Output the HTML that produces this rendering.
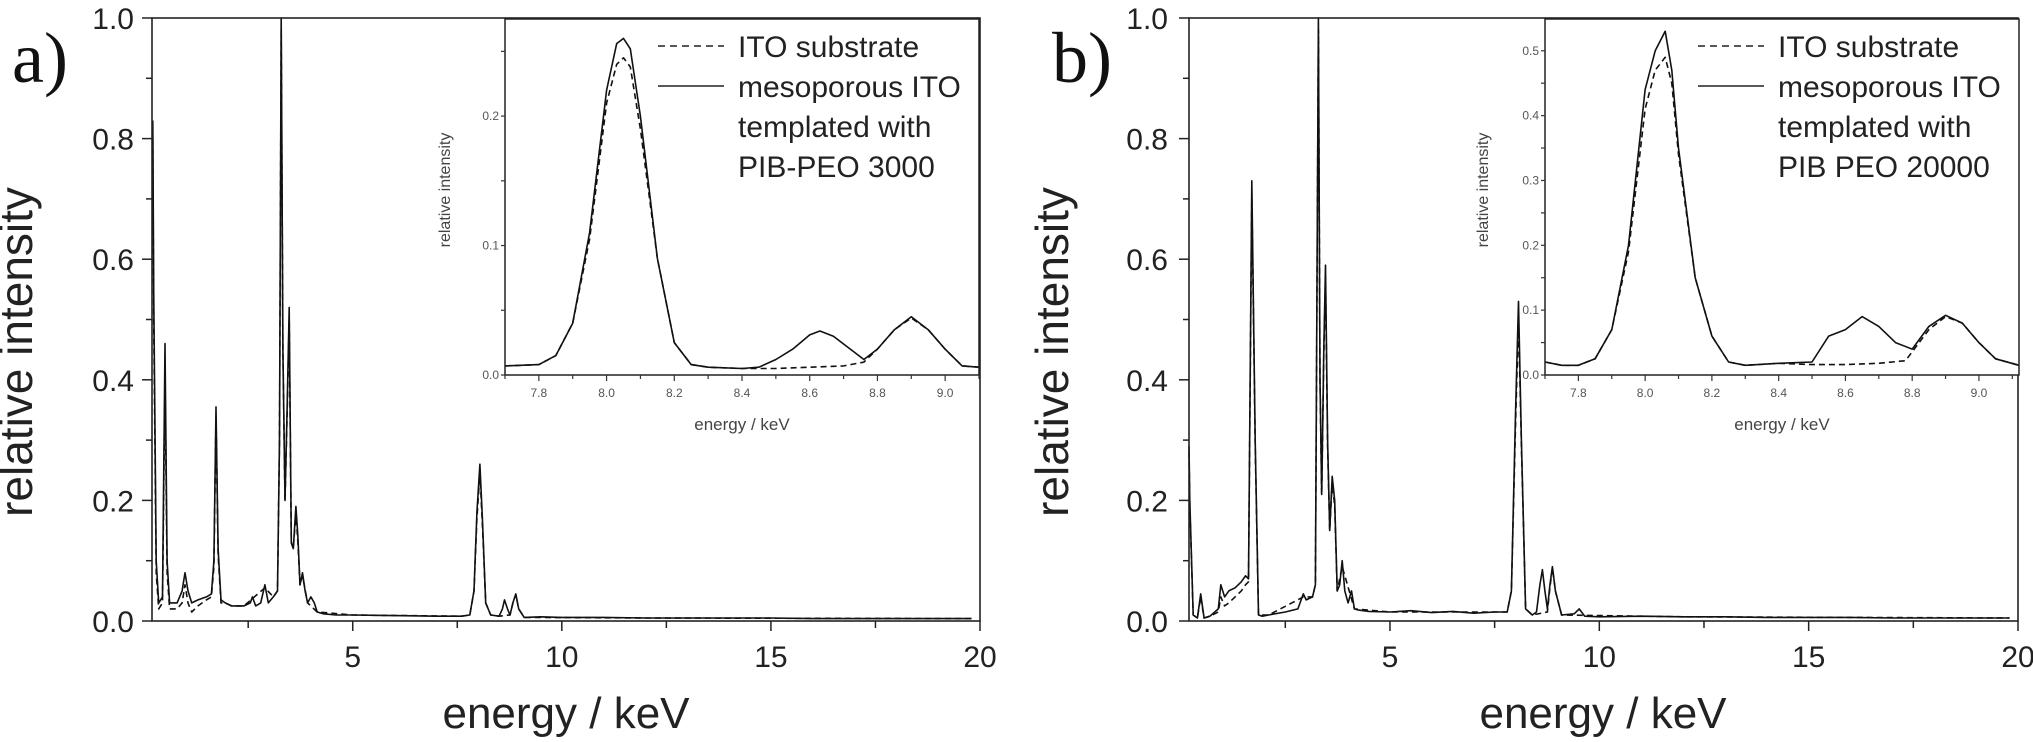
<!DOCTYPE html>
<html><head><meta charset="utf-8"><style>
html,body{margin:0;padding:0;background:#fff;}
svg{display:block;font-family:"Liberation Sans",sans-serif;}
</style></head><body>
<svg id="fig" width="2033" height="742" viewBox="0 0 2033 742" xmlns="http://www.w3.org/2000/svg"></svg>
<script>
// ---- Panel a main spectrum data ----
const aSolidE = [0.22,0.24,0.30,0.36,0.45,0.51,0.56,0.62,0.80,0.92,0.99,1.06,1.15,1.30,1.50,1.62,1.68,1.73,1.78,1.85,1.95,2.10,2.40,2.55,2.60,2.68,2.80,2.90,2.98,3.10,3.20,3.25,3.29,3.33,3.38,3.43,3.48,3.53,3.58,3.64,3.69,3.74,3.80,3.86,3.92,4.00,4.08,4.15,4.30,4.60,5.0,6.0,7.0,7.6,7.8,7.9,7.97,8.04,8.10,8.18,8.30,8.50,8.58,8.63,8.70,8.76,8.83,8.90,8.97,9.10,9.5,10,11,12,13,14,15,16,17,18,19,19.8];
const aSolidI = [0.83,0.55,0.10,0.03,0.04,0.46,0.10,0.03,0.03,0.05,0.08,0.05,0.03,0.035,0.04,0.045,0.10,0.355,0.12,0.035,0.03,0.025,0.025,0.03,0.04,0.025,0.03,0.06,0.03,0.04,0.05,0.30,1.00,0.45,0.20,0.35,0.52,0.13,0.12,0.19,0.14,0.06,0.08,0.05,0.03,0.04,0.03,0.015,0.012,0.01,0.01,0.009,0.008,0.008,0.01,0.05,0.18,0.26,0.17,0.03,0.01,0.008,0.02,0.035,0.02,0.01,0.03,0.045,0.02,0.006,0.007,0.006,0.006,0.005,0.005,0.005,0.005,0.004,0.004,0.004,0.004,0.004];
const aDashE = [0.22,0.24,0.30,0.36,0.45,0.51,0.56,0.62,0.80,0.92,0.99,1.06,1.15,1.30,1.50,1.62,1.68,1.73,1.78,1.85,1.95,2.10,2.40,2.90,3.10,3.20,3.25,3.29,3.33,3.38,3.43,3.48,3.53,3.58,3.64,3.69,3.74,3.80,3.92,4.15,5.0,7.6,7.8,7.9,7.97,8.04,8.10,8.18,8.30,8.50,8.76,8.83,8.90,8.97,9.10,12,19.8];
const aDashI = [0.80,0.50,0.08,0.02,0.03,0.40,0.08,0.02,0.02,0.03,0.06,0.03,0.015,0.025,0.035,0.04,0.09,0.34,0.11,0.03,0.03,0.025,0.025,0.055,0.04,0.05,0.30,0.98,0.45,0.20,0.34,0.50,0.13,0.12,0.18,0.13,0.06,0.075,0.03,0.015,0.01,0.008,0.01,0.05,0.17,0.245,0.16,0.03,0.01,0.008,0.01,0.03,0.044,0.02,0.006,0.005,0.004];
// ---- Panel a inset data ----
const aInSolidE = [7.70,7.80,7.85,7.90,7.95,8.00,8.03,8.05,8.07,8.10,8.15,8.20,8.25,8.30,8.40,8.45,8.50,8.55,8.60,8.63,8.67,8.72,8.76,8.80,8.85,8.90,8.95,9.00,9.05,9.10];
const aInSolidI = [0.007,0.008,0.015,0.04,0.11,0.22,0.256,0.26,0.252,0.20,0.09,0.025,0.008,0.006,0.005,0.006,0.012,0.02,0.031,0.034,0.03,0.02,0.012,0.02,0.035,0.045,0.035,0.02,0.007,0.006];
const aInDashE = [7.70,7.80,7.85,7.90,7.95,8.00,8.03,8.05,8.07,8.10,8.15,8.20,8.25,8.30,8.40,8.50,8.60,8.70,8.76,8.80,8.85,8.90,8.95,9.00,9.05,9.10];
const aInDashI = [0.007,0.008,0.015,0.04,0.105,0.21,0.24,0.245,0.238,0.19,0.09,0.025,0.008,0.006,0.005,0.005,0.006,0.007,0.01,0.02,0.035,0.044,0.035,0.02,0.007,0.006];
// ---- Panel b main spectrum data ----
const bSolidE = [0.20,0.22,0.30,0.40,0.48,0.56,0.70,0.90,0.96,1.05,1.15,1.30,1.45,1.55,1.62,1.70,1.78,1.86,1.95,2.10,2.50,2.80,2.93,3.00,3.15,3.22,3.29,3.33,3.37,3.42,3.46,3.51,3.56,3.62,3.68,3.74,3.80,3.86,3.92,4.00,4.08,4.15,4.25,4.50,5.0,5.5,6.0,6.5,7.0,7.5,7.8,7.90,8.00,8.07,8.14,8.24,8.40,8.50,8.58,8.64,8.70,8.76,8.82,8.88,8.95,9.10,9.40,9.52,9.65,10,11,12,13,14,15,16,17,18,19,19.8];
const bSolidI = [0.29,0.20,0.01,0.005,0.045,0.005,0.008,0.02,0.06,0.04,0.05,0.055,0.065,0.075,0.07,0.73,0.30,0.01,0.008,0.01,0.015,0.02,0.045,0.035,0.04,0.06,1.00,0.40,0.21,0.45,0.59,0.30,0.15,0.24,0.20,0.05,0.06,0.10,0.05,0.03,0.05,0.02,0.018,0.016,0.015,0.017,0.014,0.016,0.013,0.015,0.015,0.05,0.35,0.53,0.30,0.02,0.01,0.015,0.06,0.085,0.05,0.02,0.06,0.09,0.05,0.01,0.012,0.02,0.008,0.007,0.008,0.007,0.007,0.006,0.006,0.006,0.005,0.005,0.005,0.005];
const bDashE = [0.20,0.22,0.30,0.40,0.48,0.56,0.70,0.90,0.96,1.05,1.15,1.30,1.45,1.55,1.62,1.70,1.78,1.86,2.10,2.93,3.15,3.22,3.29,3.33,3.37,3.42,3.46,3.51,3.56,3.62,3.68,3.74,3.86,4.15,5.0,7.8,7.90,8.00,8.07,8.14,8.24,8.40,8.76,8.82,8.88,8.95,9.10,12,19.8];
const bDashI = [0.28,0.19,0.01,0.005,0.04,0.005,0.008,0.015,0.04,0.025,0.03,0.04,0.05,0.06,0.065,0.71,0.29,0.01,0.01,0.04,0.04,0.06,0.98,0.40,0.21,0.44,0.57,0.29,0.15,0.23,0.19,0.05,0.09,0.02,0.015,0.015,0.05,0.33,0.50,0.29,0.02,0.01,0.015,0.055,0.088,0.05,0.01,0.007,0.005];
// ---- Panel b inset data ----
const bInSolidE = [7.70,7.75,7.80,7.85,7.90,7.95,8.00,8.03,8.06,8.08,8.10,8.15,8.20,8.25,8.30,8.40,8.50,8.55,8.60,8.65,8.70,8.75,8.80,8.85,8.90,8.95,9.00,9.05,9.12];
const bInSolidI = [0.02,0.015,0.015,0.025,0.07,0.20,0.44,0.50,0.53,0.47,0.35,0.15,0.06,0.02,0.015,0.018,0.02,0.06,0.07,0.09,0.075,0.05,0.04,0.075,0.092,0.08,0.05,0.025,0.015];
const bInDashE = [7.70,7.75,7.80,7.85,7.90,7.95,8.00,8.03,8.06,8.08,8.10,8.15,8.20,8.25,8.30,8.40,8.50,8.60,8.70,8.78,8.85,8.90,8.95,9.00,9.05,9.12];
const bInDashI = [0.02,0.015,0.015,0.025,0.07,0.19,0.41,0.47,0.49,0.45,0.34,0.15,0.06,0.02,0.015,0.018,0.016,0.016,0.018,0.022,0.07,0.09,0.08,0.05,0.025,0.015];
// ---- tick labels ----
const mainXTicks = [5,10,15,20];
const mainYTicks = ["0.0","0.2","0.4","0.6","0.8","1.0"];
const insetXTicks = ["7.8","8.0","8.2","8.4","8.6","8.8","9.0"];
const aInsetYTicks = ["0.0","0.1","0.2"];
const bInsetYTicks = ["0.0","0.1","0.2","0.3","0.4","0.5"];

const NS="http://www.w3.org/2000/svg";
const svg=document.getElementById('fig');
function mk(tag,attrs,parent){const e=document.createElementNS(NS,tag);for(const k in attrs)e.setAttribute(k,attrs[k]);(parent||svg).appendChild(e);return e;}
function scale(d0,d1,r0,r1){return v=>r0+(v-d0)/(d1-d0)*(r1-r0);}
function drawLine(g,xs,ys,X,Y,dash,name){
  const pts=xs.map((e,i)=>X(e).toFixed(1)+','+Y(ys[i]).toFixed(1)).join(' ');
  const p=mk('polyline',{points:pts,fill:'none',stroke:'#111','stroke-width':'1.6','stroke-linejoin':'round','stroke-dasharray':dash?'6,4':'none'},g);
  
  
}
function mainPanel(id,L,R,T,B,xmin,solidE,solidI,dashE,dashI,tickEnd,letterX,letter,ylabX,xlabX){
  const g=mk('g',{});
  
  
  const X=scale(xmin,20,L,R),Y=scale(0,1,B,T);
  drawLine(g,dashE,dashI,X,Y,true,'substrate-spectrum-'+id);
  drawLine(g,solidE,solidI,X,Y,false,'mesoporous-spectrum-'+id);
  const fr=mk('rect',{x:L,y:T,width:R-L,height:B-T,fill:'none',stroke:'#222','stroke-width':'1.6'},g);
  
  
  for(let v=2.5;v<=20;v+=2.5){mk('line',{x1:X(v),x2:X(v),y1:B,y2:B+(v%5===0?10:7),stroke:'#222','stroke-width':'1.5'},g);}
  mainXTicks.forEach(v=>{const t=mk('text',{x:X(v),y:B+46,'font-size':'30','text-anchor':'middle',fill:'#222'},g);t.textContent=v;
    
    });
  for(let i=0;i<=10;i++){const v=i/10;mk('line',{x1:L,x2:L-(i%2===0?10:6),y1:Y(v),y2:Y(v),stroke:'#222','stroke-width':'1.5'},g);}
  mainYTicks.forEach(s=>{const t=mk('text',{x:tickEnd,y:Y(parseFloat(s))+11,'font-size':'30','text-anchor':'end',fill:'#222'},g);t.textContent=s;
    
    });
  const yl=mk('text',{x:0,y:0,'font-size':'46','text-anchor':'middle',fill:'#222',transform:`translate(${ylabX},352) rotate(-90)`},g);yl.textContent='relative intensity';
  
  
  const xl=mk('text',{x:xlabX,y:728,'font-size':'44','text-anchor':'middle',fill:'#222'},g);xl.textContent='energy / keV';
  
  
  const lt=mk('text',{x:letterX,y:82,'font-size':'72','font-family':'Liberation Serif, serif',fill:'#111'},g);lt.textContent=letter;
  
  
}
function insetPanel(id,L,R,T,B,xmin,xmax,ymax,yTicks,yStep,solidE,solidI,dashE,dashI,ylabX,legX,legend4){
  const g=mk('g',{});
  
  
  const X=scale(xmin,xmax,L,R),Y=scale(0,ymax,B,T);
  mk('rect',{x:L,y:T,width:R-L,height:B-T,fill:'#fff'},g);
  drawLine(g,dashE,dashI,X,Y,true,'inset-substrate-'+id);
  drawLine(g,solidE,solidI,X,Y,false,'inset-mesoporous-'+id);
  mk('rect',{x:L,y:T,width:R-L,height:B-T,fill:'none',stroke:'#222','stroke-width':'1.5'},g);
  for(let v=7.7;v<=xmax+1e-6;v+=0.1){const maj=Math.abs(Math.round(v*10)%2)===0;mk('line',{x1:X(v),x2:X(v),y1:B,y2:B+(maj?6:4),stroke:'#333','stroke-width':'1.2'},g);}
  insetXTicks.forEach(s=>{const t=mk('text',{x:X(parseFloat(s)),y:B+22,'font-size':'12','text-anchor':'middle',fill:'#555'},g);t.textContent=s;
    
    });
  for(let v=0;v<=ymax+1e-6;v+=yStep/2){mk('line',{x1:L,x2:L-4,y1:Y(v),y2:Y(v),stroke:'#333','stroke-width':'1.2'},g);}
  yTicks.forEach(s=>{const t=mk('text',{x:L-6,y:Y(parseFloat(s))+4,'font-size':'12','text-anchor':'end',fill:'#555'},g);t.textContent=s;
    
    });
  const yl=mk('text',{x:0,y:0,'font-size':'16','text-anchor':'middle',fill:'#444',transform:`translate(${ylabX},190) rotate(-90)`},g);yl.textContent='relative intensity';
  
  
  const xl=mk('text',{x:(L+R)/2,y:430,'font-size':'17','text-anchor':'middle',fill:'#444'},g);xl.textContent='energy / keV';
  
  
  const lg=mk('g',{},g);
  
  
  mk('line',{x1:legX,x2:legX+66,y1:46,y2:46,stroke:'#222','stroke-width':'1.6','stroke-dasharray':'7,5'},lg);
  mk('line',{x1:legX,x2:legX+66,y1:86,y2:86,stroke:'#222','stroke-width':'1.6'},lg);
  const lines=['ITO substrate','mesoporous ITO','templated with',legend4];
  lines.forEach((s,i)=>{const t=mk('text',{x:legX+80,y:57+i*40,'font-size':'30',fill:'#222'},lg);t.textContent=s;
    
    });
}
mainPanel('a',152,980,18,621,0.2,aSolidE,aSolidI,aDashE,aDashI,134,12,'a)',32,566);
insetPanel('a',505,979,19,375,7.7,9.1,0.275,aInsetYTicks,0.1,aInSolidE,aInSolidI,aInDashE,aInDashI,450,658,'PIB-PEO 3000');
mainPanel('b',1189,2018,18,621,0.2,bSolidE,bSolidI,bDashE,bDashI,1168,1052,'b)',1068,1603);
insetPanel('b',1545,2019,19,375,7.7,9.12,0.549,bInsetYTicks,0.1,bInSolidE,bInSolidI,bInDashE,bInDashI,1488,1698,'PIB PEO 20000');
</script>
</body></html>
